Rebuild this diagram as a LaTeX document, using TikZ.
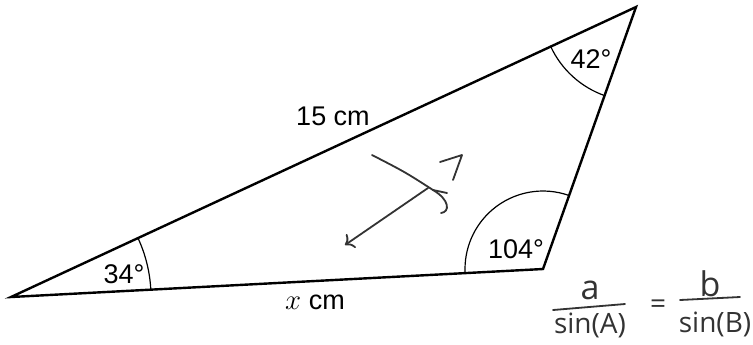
\documentclass[tikz,border=0pt]{standalone}
\usepackage{fontspec}
\setmainfont{Liberation Sans}
\newfontfamily\handfont{Open Sans}
\usetikzlibrary{angles, arrows.meta}

\tikzset{
  side line/.style={line width=1.2pt, line join=miter},
  angle arc/.style={draw, line width=0.6pt},
  label text/.style={font=\fontsize{13.5}{15}\selectfont, anchor=base},
  hand/.style={black!80, line width=0.9pt, line cap=round, line join=round},
  hand text/.style={black!80, font=\handfont\fontsize{14}{16}\selectfont, anchor=base}
}

\begin{document}
\begin{tikzpicture}[x=0.5pt, y=-0.5pt]
    \useasboundingbox (0,0) rectangle (753,344);

    % Triangle corners
    \coordinate (A) at (11,297);
    \coordinate (B) at (543,269);
    \coordinate (C) at (636,7);

    % Sides
    \draw[side line] (A) -- (B) -- (C) -- cycle;

    % Angle marks
    \pic[angle arc, angle radius=70pt] {angle = B--A--C};
    \pic[angle arc, angle radius=39pt] {angle = C--B--A};
    \pic[angle arc, angle radius=47pt] {angle = A--C--B};

    % Labels
    \node[label text] (angA) at (124,283) {34°};
    \node[label text] (angB) at (516,258) {104°};
    \node[label text] (angC) at (591,68) {42°};
    \node[label text] (top) at (333,125) {15 cm};
    \node[label text] (bottom) at (315,309) {$x$ cm};

    % Handwritten working
    \draw[hand] (372,155) .. controls (405,172) .. (433,190) .. controls (450,200) and (450,212) .. (441,213);
    \draw[hand] (433,190) -- (447,193);
    \draw[hand, -{To[length=4pt]}] (428,188) -- (345,245);
    \draw[hand] (440,162) -- (462,155) -- (453,180);

    \node[hand text, font=\handfont\fontsize{17}{18}\selectfont] (numA) at (590,299) {a};
    \node[hand text] (denA) at (590,333) {sin(A)};
    \node[hand text] (eq) at (658,313) {=};
    \node[hand text, font=\handfont\fontsize{17}{18}\selectfont] (numB) at (710,296) {b};
    \node[hand text] (denB) at (715,332) {sin(B)};
    \draw[hand] (553,310) -- (625,304);
    \draw[hand] (680,300) -- (740,297);
\end{tikzpicture}
\end{document}
